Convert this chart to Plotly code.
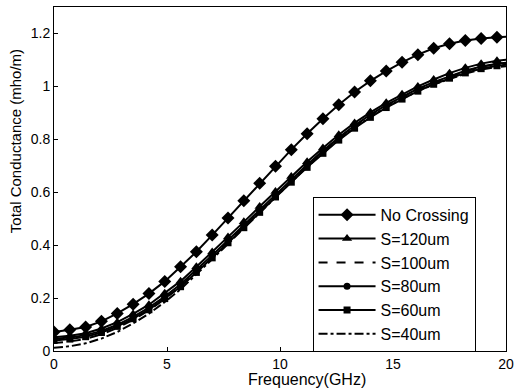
import plotly.graph_objects as go

freq = [0, 0.7, 1.4, 2.1, 2.8, 3.5, 4.2, 4.9, 5.6, 6.3, 7.0, 7.7, 8.4, 9.1, 9.8,
        10.5, 11.2, 11.9, 12.6, 13.3, 14.0, 14.7, 15.4, 16.1, 16.8, 17.5, 18.2, 18.9, 19.6, 20.3]

no_crossing = [0.072, 0.08, 0.091, 0.112, 0.142, 0.177, 0.217, 0.263, 0.318, 0.375, 0.438, 0.503, 0.568, 0.634, 0.698,
               0.761, 0.821, 0.878, 0.931, 0.979, 1.021, 1.058, 1.091, 1.12, 1.144, 1.161, 1.173, 1.181, 1.186, 1.188]
s120 = [0.052, 0.058, 0.067, 0.085, 0.109, 0.14, 0.175, 0.218, 0.264, 0.318, 0.374, 0.431, 0.488, 0.546, 0.603,
        0.659, 0.715, 0.767, 0.817, 0.862, 0.902, 0.938, 0.97, 1.0, 1.026, 1.05, 1.07, 1.086, 1.097, 1.103]
s100 = [0.03, 0.036, 0.046, 0.063, 0.087, 0.118, 0.154, 0.197, 0.244, 0.299, 0.356, 0.414, 0.472, 0.53, 0.588,
        0.645, 0.701, 0.755, 0.805, 0.85, 0.891, 0.927, 0.959, 0.989, 1.014, 1.037, 1.057, 1.073, 1.085, 1.09]
s80 = [0.046, 0.051, 0.06, 0.076, 0.099, 0.129, 0.164, 0.206, 0.252, 0.306, 0.362, 0.419, 0.476, 0.534, 0.592,
       0.648, 0.704, 0.757, 0.807, 0.852, 0.893, 0.929, 0.961, 0.991, 1.016, 1.039, 1.059, 1.075, 1.086, 1.092]
s60 = [0.04, 0.045, 0.054, 0.07, 0.093, 0.122, 0.156, 0.198, 0.243, 0.297, 0.352, 0.409, 0.466, 0.524, 0.582,
       0.638, 0.694, 0.747, 0.797, 0.842, 0.883, 0.92, 0.952, 0.982, 1.008, 1.031, 1.051, 1.067, 1.078, 1.084]
s40 = [0.012, 0.018, 0.029, 0.047, 0.072, 0.104, 0.141, 0.185, 0.233, 0.289, 0.347, 0.405, 0.464, 0.523, 0.582,
       0.639, 0.695, 0.749, 0.799, 0.844, 0.885, 0.921, 0.953, 0.982, 1.007, 1.029, 1.048, 1.063, 1.073, 1.078]

x_title = "Frequency(GHz)"
y_title = "Total Conductance (mho/m)"

series = [
    ("No Crossing", no_crossing, "lines+markers", "solid", "diamond", 10),
    ("S=120um", s120, "lines+markers", "solid", "triangle-up", 9),
    ("S=100um", s100, "lines", "dash", None, 0),
    ("S=80um", s80, "lines+markers", "solid", "circle", 7),
    ("S=60um", s60, "lines+markers", "solid", "square", 7),
    ("S=40um", s40, "lines", "dashdot", None, 0),
]

fig = go.Figure()
for name, vals, mode, dash, sym, size in series:
    kw = dict(x=freq, y=vals, name=name, mode=mode,
              line=dict(color="black", width=2, dash=dash))
    if sym:
        kw["marker"] = dict(symbol=sym, size=size, color="black")
    fig.add_trace(go.Scatter(**kw))

axis_common = dict(showline=True, linecolor="black", linewidth=1, mirror=True,
                   ticks="inside", ticklen=4, tickcolor="black", showgrid=False,
                   zeroline=False, tickfont=dict(size=14, color="black"), automargin=False)

fig.update_layout(
    width=521, height=390,
    margin=dict(l=54, r=15, t=7, b=39),
    paper_bgcolor="white", plot_bgcolor="white",
    font=dict(family="Arial", color="black"),
    xaxis=dict(range=[0, 20], tickvals=[0, 5, 10, 15, 20], **axis_common),
    yaxis=dict(range=[0, 1.3], tickvals=[0, 0.2, 0.4, 0.6, 0.8, 1, 1.2], **axis_common),
    legend=dict(x=0.572, y=0.448, xanchor="left", yanchor="top",
                bgcolor="white", bordercolor="black", borderwidth=1,
                font=dict(size=16, color="black"), itemwidth=57),
    showlegend=True,
    annotations=[
        dict(text=x_title, xref="paper", yref="paper", x=0.56, y=0, yshift=-28,
             xanchor="center", yanchor="middle", showarrow=False, font=dict(size=16)),
        dict(text=y_title, xref="paper", yref="paper", x=0, xshift=-39, y=0.61,
             xanchor="center", yanchor="middle", textangle=-90, showarrow=False,
             font=dict(size=15)),
    ],
)

fig.write_html("out.html")
